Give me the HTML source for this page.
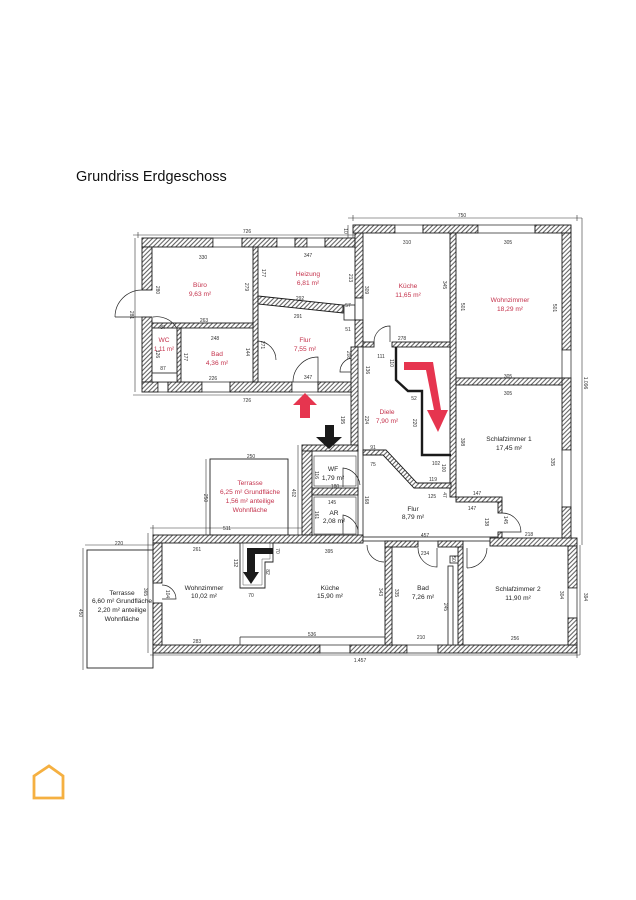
<!DOCTYPE html>
<html><head><meta charset="utf-8"><style>
html,body{margin:0;padding:0;background:#fff;}
svg{display:block}
text{font-family:"Liberation Sans",Arial,sans-serif;}
.d{font-size:5px;fill:#333;text-anchor:middle}
.r{font-size:6.6px;fill:#c4314b;text-anchor:middle}
.k{font-size:6.6px;fill:#222;text-anchor:middle}
.w{fill:url(#h);stroke:#1a1a1a;stroke-width:0.9}
.g{fill:#fff;stroke:#1a1a1a;stroke-width:0.7}
.t{fill:#fff;stroke:#1a1a1a;stroke-width:0.8}
.l{fill:none;stroke:#333;stroke-width:0.6}
.dr{fill:none;stroke:#222;stroke-width:0.7}
</style></head><body>
<svg width="636" height="900" viewBox="0 0 636 900" xmlns="http://www.w3.org/2000/svg">
<defs>
<pattern id="h" width="3.2" height="3.2" patternUnits="userSpaceOnUse" patternTransform="rotate(45)">
<rect width="3.2" height="3.2" fill="#fff"/>
<line x1="1.2" y1="0" x2="1.2" y2="3.2" stroke="#444" stroke-width="0.9"/>
</pattern>
</defs>
<rect width="636" height="900" fill="#fff"/>
<text x="76" y="181" font-size="14.5" fill="#111" style="font-family:'Liberation Sans',Arial,sans-serif">Grundriss Erdgeschoss</text>

<!-- dimension lines -->
<g class="l">
<path d="M133,235 H355 M138,232 V238 M353,232 V238"/>
<path d="M348,218 H582 M353,215 V221 M577,215 V221"/>
<path d="M582,218 V545"/>
<path d="M580,545 V655"/>
<path d="M150,655 H580 M153,652 V658 M577,652 V658"/>
<path d="M135,238 V392"/>
<path d="M133,395 H358"/>
<path d="M83,548 V670"/>
<path d="M85,545 H153"/>
<path d="M148,533 V653"/>
<path d="M150,528 H302 M153,525 V535"/>
<path d="M298,445 V540"/>
<path d="M348,225 V238"/>
</g>

<!-- terraces -->
<rect x="210" y="459" width="78" height="76" fill="none" stroke="#222" stroke-width="0.9"/>
<path d="M206,459 V535" class="l"/>
<rect x="87" y="550" width="66" height="118" fill="none" stroke="#222" stroke-width="0.9"/>

<!-- upper-left block walls -->
<rect class="w" x="142" y="238" width="71" height="9"/>
<rect class="g" x="213" y="238" width="29" height="9"/>
<rect class="w" x="242" y="238" width="35" height="9"/>
<rect class="g" x="277" y="238" width="18" height="9"/>
<rect class="w" x="295" y="238" width="12" height="9"/>
<rect class="g" x="307" y="238" width="18" height="9"/>
<rect class="w" x="325" y="238" width="30" height="9"/>

<rect class="w" x="142" y="247" width="10" height="43"/>
<rect class="w" x="142" y="317" width="10" height="65"/>

<rect class="w" x="142" y="382" width="16" height="10"/>
<rect class="g" x="158" y="382" width="10" height="10"/>
<rect class="w" x="168" y="382" width="34" height="10"/>
<rect class="g" x="202" y="382" width="28" height="10"/>
<rect class="w" x="230" y="382" width="62" height="10"/>
<rect class="g" x="292" y="382" width="26" height="10"/>
<rect class="w" x="318" y="382" width="41" height="10"/>

<!-- interior upper-left -->
<rect class="w" x="253" y="247" width="5" height="135"/>
<rect class="w" x="152" y="323" width="101" height="5"/>
<rect class="w" x="177" y="328" width="4" height="54"/>
<rect class="t" x="152" y="373" width="25" height="9"/>
<polygon class="w" points="258,296 343,305 343,313 258,304"/>
<rect class="t" x="344" y="305" width="11" height="15"/>

<!-- block divider wall -->
<rect class="w" x="355" y="225" width="8" height="73"/>
<rect class="t" x="355" y="298" width="8" height="22"/>
<rect class="w" x="355" y="320" width="8" height="27"/>
<rect class="w" x="351" y="347" width="8" height="100"/>

<!-- upper-right block -->
<rect class="w" x="353" y="225" width="42" height="8"/>
<rect class="g" x="395" y="225" width="28" height="8"/>
<rect class="w" x="423" y="225" width="55" height="8"/>
<rect class="g" x="478" y="225" width="57" height="8"/>
<rect class="w" x="535" y="225" width="36" height="8"/>

<rect class="w" x="562" y="233" width="9" height="117"/>
<rect class="g" x="562" y="350" width="9" height="28"/>
<rect class="w" x="562" y="378" width="9" height="72"/>
<rect class="g" x="562" y="450" width="9" height="57"/>
<rect class="w" x="562" y="507" width="9" height="35"/>

<rect class="w" x="450" y="233" width="6" height="264"/>
<rect class="w" x="456" y="378" width="106" height="7"/>
<rect class="w" x="363" y="342" width="11" height="5"/>
<rect class="w" x="392" y="342" width="58" height="5"/>

<rect class="t" x="358" y="347" width="5" height="193"/>

<!-- Diele inner wall -->
<polyline points="396,347 396,380 408,391 422,391 422,455 451,455" fill="none" stroke="#1a1a1a" stroke-width="2.4"/>
<polygon class="w" points="363,450 386,450 417,483 451,483 451,488 414,488 383,455 363,455"/>

<!-- SZ1 lower wall -->
<rect class="w" x="456" y="497" width="46" height="5"/>
<rect class="w" x="498" y="502" width="4" height="11"/>
<rect class="w" x="498" y="532" width="4" height="6"/>

<!-- WF / AR block -->
<rect class="w" x="302" y="445" width="56" height="6"/>
<rect class="w" x="302" y="451" width="10" height="84"/>
<rect class="w" x="312" y="488" width="46" height="7"/>
<rect x="314" y="456" width="42" height="30" fill="none" stroke="#333" stroke-width="0.6"/>
<rect x="314" y="497" width="42" height="37" fill="none" stroke="#333" stroke-width="0.6"/>

<!-- bottom block -->
<rect class="w" x="153" y="535" width="210" height="8"/>
<rect class="t" x="363" y="537" width="135" height="4"/>
<rect class="w" x="385" y="541" width="33" height="6"/>
<rect class="w" x="438" y="541" width="25" height="6"/>
<rect class="w" x="490" y="538" width="87" height="8"/>

<rect class="w" x="153" y="543" width="9" height="40"/>
<rect class="w" x="153" y="603" width="9" height="50"/>

<rect class="w" x="153" y="645" width="167" height="8"/>
<rect class="g" x="320" y="645" width="30" height="8"/>
<rect class="w" x="350" y="645" width="57" height="8"/>
<rect class="g" x="407" y="645" width="31" height="8"/>
<rect class="w" x="438" y="645" width="139" height="8"/>

<rect class="w" x="568" y="546" width="9" height="42"/>
<rect class="g" x="568" y="588" width="9" height="30"/>
<rect class="w" x="568" y="618" width="9" height="27"/>

<rect class="w" x="385" y="547" width="7" height="98"/>
<rect class="w" x="458" y="547" width="5" height="98"/>
<rect class="t" x="448" y="566" width="5" height="79"/>
<rect class="t" x="450" y="556" width="8" height="7"/>

<path d="M240,637 H385 M240,637 V645" class="dr"/>

<!-- stair bottom -->
<polyline points="240,543 240,588 265,588 265,562 273,562 273,543" fill="none" stroke="#222" stroke-width="0.9"/>
<polyline points="243,543 243,585 262,585 262,559 270,559 270,543" fill="none" stroke="#555" stroke-width="0.5"/>

<!-- doors -->
<g class="dr">
<path d="M115,317 H142 M115,317 A27,27 0 0 1 142,290"/>
<path d="M153,317 A23,23 0 0 1 176,327"/>
<path d="M258,360 V341 A19,19 0 0 1 276,360"/>
<path d="M318,382 V357 A25,25 0 0 0 293,382"/>
<path d="M351,358 A14,14 0 0 0 340,372 H351"/>
<path d="M390,342 V326 A16,16 0 0 0 374,342"/>
<path d="M343,487 V468 A19,19 0 0 1 360,485"/>
<path d="M343,534 V515 A19,19 0 0 1 358,530"/>
<path d="M502,513 A19,19 0 0 1 521,532 H502"/>
<path d="M367,545 A17,17 0 0 0 384,562"/>
<path d="M418,548 A19,19 0 0 0 437,567 V548"/>
<path d="M467,568 A20,20 0 0 0 487,548 M467,548 V568"/>
<path d="M162,585 A14,14 0 0 1 176,599 H162"/>
</g>

<!-- arrows -->
<polygon points="305,393 317,405 310,405 310,418 300,418 300,405 293,405" fill="#e6354f"/>
<polygon points="404,362 433,362 441,410 448,410 438,432 427,410 434,410 426,370 404,370" fill="#e6354f"/>
<polygon points="325,425 334,425 334,437 342,437 329,449 316,437 325,437" fill="#1a1a1a"/>
<polygon points="247,548 273,548 273,554 255,554 255,572 259,572 251,584 243,572 247,572" fill="#1a1a1a"/>

<!-- room labels red -->
<text class="r" x="200" y="287">Büro</text><text class="r" x="200" y="296">9,63 m²</text>
<text class="r" x="164" y="342">WC</text><text class="r" x="164" y="351" style="font-size:6px">1,11 m²</text>
<text class="r" x="217" y="356">Bad</text><text class="r" x="217" y="365">4,36 m²</text>
<text class="r" x="308" y="276">Heizung</text><text class="r" x="308" y="285">6,81 m²</text>
<text class="r" x="305" y="342">Flur</text><text class="r" x="305" y="351">7,55 m²</text>
<text class="r" x="408" y="288">Küche</text><text class="r" x="408" y="297">11,65 m²</text>
<text class="r" x="510" y="302">Wohnzimmer</text><text class="r" x="510" y="311">18,29 m²</text>
<text class="r" x="387" y="414">Diele</text><text class="r" x="387" y="423">7,90 m²</text>
<text class="r" x="250" y="485">Terrasse</text><text class="r" x="250" y="494">6,25 m² Grundfläche</text>
<text class="r" x="250" y="503">1,56 m² anteilige</text><text class="r" x="250" y="512">Wohnfläche</text>

<!-- room labels black -->
<text class="k" x="509" y="441">Schlafzimmer 1</text><text class="k" x="509" y="450">17,45 m²</text>
<text class="k" x="333" y="471">WF</text><text class="k" x="333" y="480">1,79 m²</text>
<text class="k" x="334" y="515">AR</text><text class="k" x="334" y="523">2,08 m²</text>
<text class="k" x="413" y="511">Flur</text><text class="k" x="413" y="519">8,79 m²</text>
<text class="k" x="204" y="590">Wohnzimmer</text><text class="k" x="204" y="598">10,02 m²</text>
<text class="k" x="330" y="590">Küche</text><text class="k" x="330" y="598">15,90 m²</text>
<text class="k" x="423" y="590">Bad</text><text class="k" x="423" y="599">7,26 m²</text>
<text class="k" x="518" y="591">Schlafzimmer 2</text><text class="k" x="518" y="600">11,90 m²</text>
<text class="k" x="122" y="595">Terrasse</text><text class="k" x="122" y="603">6,60 m² Grundfläche</text>
<text class="k" x="122" y="612">2,20 m² anteilige</text><text class="k" x="122" y="621">Wohnfläche</text>

<!-- horizontal dimension labels -->
<g class="d">
<text x="247" y="233">726</text><text x="462" y="217">750</text>
<text x="203" y="259">330</text><text x="204" y="322">263</text>
<text x="163" y="329">87</text><text x="163" y="370">87</text>
<text x="215" y="340">248</text><text x="213" y="380">226</text>
<text x="308" y="257">347</text><text x="300" y="300">292</text><text x="298" y="318">291</text>
<text x="348" y="307">57</text><text x="348" y="331">51</text><text x="308" y="379">347</text>
<text x="407" y="244">310</text><text x="402" y="340">278</text>
<text x="508" y="244">305</text><text x="508" y="378">305</text><text x="508" y="395">305</text>
<text x="381" y="358">111</text><text x="247" y="402">726</text>
<text x="373" y="449">91</text><text x="373" y="466">75</text><text x="414" y="400">52</text>
<text x="436" y="465">102</text><text x="433" y="481">119</text><text x="432" y="498">125</text>
<text x="477" y="495">147</text><text x="472" y="510">147</text>
<text x="425" y="537">457</text><text x="529" y="536">218</text>
<text x="335" y="488">180</text><text x="332" y="504">145</text>
<text x="251" y="458">250</text><text x="227" y="530">511</text>
<text x="119" y="545">220</text><text x="197" y="551">261</text><text x="197" y="643">283</text>
<text x="329" y="553">395</text><text x="312" y="636">536</text><text x="251" y="597">70</text>
<text x="425" y="555">234</text><text x="421" y="639">210</text><text x="515" y="640">256</text>
<text x="360" y="662">1.457</text>
</g>

<!-- vertical dimension labels -->
<g class="d">
<text transform="translate(158,290) rotate(90)" dy="1.8">280</text>
<text transform="translate(247,287) rotate(90)" dy="1.8">279</text>
<text transform="translate(132,315) rotate(90)" dy="1.8">281</text>
<text transform="translate(158,354) rotate(90)" dy="1.8">126</text>
<text transform="translate(186,357) rotate(90)" dy="1.8">177</text>
<text transform="translate(248,352) rotate(90)" dy="1.8">144</text>
<text transform="translate(264,273) rotate(90)" dy="1.8">177</text>
<text transform="translate(351,278) rotate(90)" dy="1.8">213</text>
<text transform="translate(263,345) rotate(90)" dy="1.8">271</text>
<text transform="translate(349,355) rotate(90)" dy="1.8">208</text>
<text transform="translate(367,290) rotate(90)" dy="1.8">309</text>
<text transform="translate(445,285) rotate(90)" dy="1.8">345</text>
<text transform="translate(463,307) rotate(90)" dy="1.8">501</text>
<text transform="translate(555,308) rotate(90)" dy="1.8">501</text>
<text transform="translate(586,383) rotate(90)" dy="1.8">1.096</text>
<text transform="translate(368,370) rotate(90)" dy="1.8">136</text>
<text transform="translate(392,363) rotate(90)" dy="1.8">110</text>
<text transform="translate(367,420) rotate(90)" dy="1.8">224</text>
<text transform="translate(415,423) rotate(90)" dy="1.8">220</text>
<text transform="translate(444,468) rotate(90)" dy="1.8">100</text>
<text transform="translate(445,495) rotate(90)" dy="1.8">47</text>
<text transform="translate(367,500) rotate(90)" dy="1.8">168</text>
<text transform="translate(463,442) rotate(90)" dy="1.8">398</text>
<text transform="translate(553,462) rotate(90)" dy="1.8">335</text>
<text transform="translate(487,522) rotate(90)" dy="1.8">138</text>
<text transform="translate(506,520) rotate(90)" dy="1.8">145</text>
<text transform="translate(343,420) rotate(90)" dy="1.8">195</text>
<text transform="translate(317,475) rotate(90)" dy="1.8">116</text>
<text transform="translate(317,515) rotate(90)" dy="1.8">161</text>
<text transform="translate(294,493) rotate(90)" dy="1.8">402</text>
<text transform="translate(206,498) rotate(90)" dy="1.8">250</text>
<text transform="translate(81,613) rotate(90)" dy="1.8">450</text>
<text transform="translate(146,592) rotate(90)" dy="1.8">365</text>
<text transform="translate(236,563) rotate(90)" dy="1.8">132</text>
<text transform="translate(278,551) rotate(90)" dy="1.8">70</text>
<text transform="translate(268,572) rotate(90)" dy="1.8">82</text>
<text transform="translate(168,594) rotate(90)" dy="1.8">104</text>
<text transform="translate(381,592) rotate(90)" dy="1.8">343</text>
<text transform="translate(397,593) rotate(90)" dy="1.8">335</text>
<text transform="translate(446,607) rotate(90)" dy="1.8">245</text>
<text transform="translate(454,559) rotate(90)" dy="1.8">50</text>
<text transform="translate(562,595) rotate(90)" dy="1.8">304</text>
<text transform="translate(586,597) rotate(90)" dy="1.8">394</text>
<text transform="translate(346,231) rotate(90)" dy="1.8">10</text>
</g>

<!-- logo -->
<polygon points="34,776 49,766 63,776 63,798 34,798" fill="none" stroke="#F5B041" stroke-width="2.8" stroke-linejoin="miter"/>
</svg>
</body></html>
